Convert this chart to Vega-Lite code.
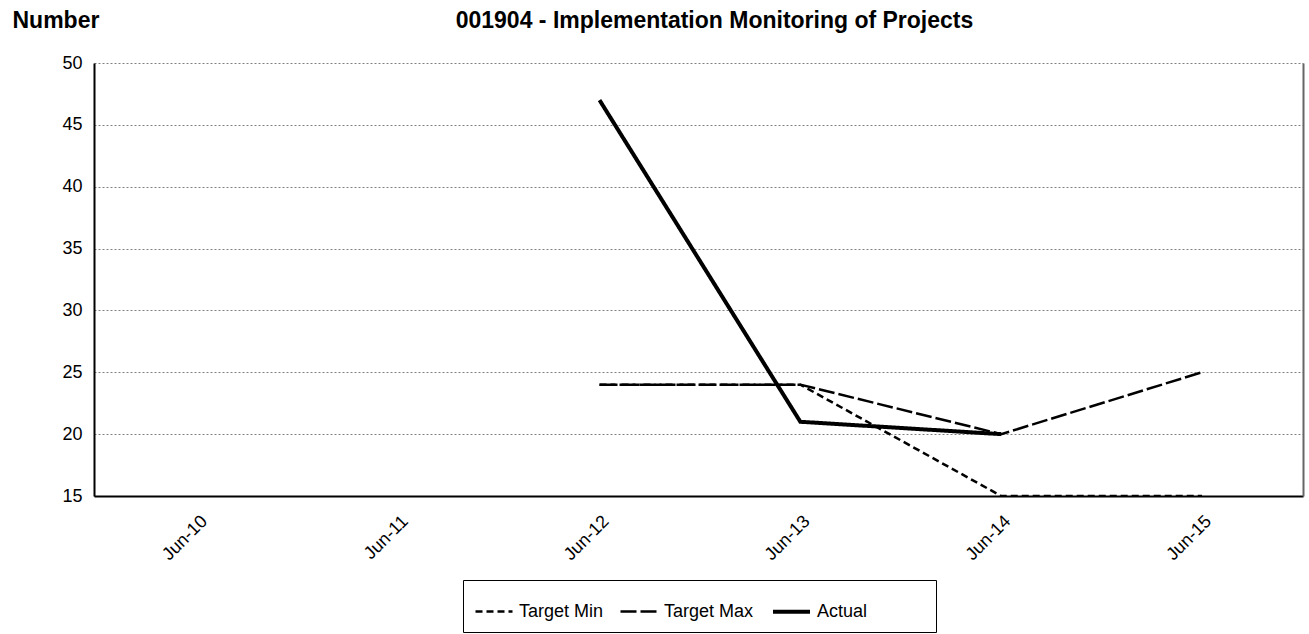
{
  "$schema": "https://vega.github.io/schema/vega-lite/v6.json",
  "autosize": "none",
  "width": 1209,
  "height": 433,
  "padding": {"left": 94, "top": 63, "right": 6, "bottom": 138},
  "background": "white",
  "data": {
    "values": [
      {"month": "Jun-12", "series": "Target Min", "value": 24},
      {"month": "Jun-13", "series": "Target Min", "value": 24},
      {"month": "Jun-14", "series": "Target Min", "value": 15},
      {"month": "Jun-15", "series": "Target Min", "value": 15},
      {"month": "Jun-12", "series": "Target Max", "value": 24},
      {"month": "Jun-13", "series": "Target Max", "value": 24},
      {"month": "Jun-14", "series": "Target Max", "value": 20},
      {"month": "Jun-15", "series": "Target Max", "value": 25},
      {"month": "Jun-12", "series": "Actual", "value": 47},
      {"month": "Jun-13", "series": "Actual", "value": 21},
      {"month": "Jun-14", "series": "Actual", "value": 20}
    ]
  },
  "layer": [
    {
      "mark": {"type": "line", "clip": true},
      "encoding": {
        "x": {
          "field": "month",
          "type": "nominal",
          "scale": {"type": "point", "domain": ["Jun-10", "Jun-11", "Jun-12", "Jun-13", "Jun-14", "Jun-15"], "padding": 0.51, "align": 0.507},
          "axis": {
            "title": null,
            "labelAngle": -45,
            "labelFontSize": 18,
            "labelPadding": 16,
            "ticks": false,
            "domainColor": "black",
            "domainWidth": 2,
            "grid": false
          }
        },
        "y": {
          "field": "value",
          "type": "quantitative",
          "scale": {"domain": [15, 50], "nice": false, "zero": false},
          "axis": {
            "values": [15, 20, 25, 30, 35, 40, 45, 50],
            "title": "Number",
            "titleAngle": 0,
            "titleAlign": "left",
            "titleBaseline": "alphabetic",
            "titleX": -82,
            "titleY": -36,
            "titleFontSize": 23,
            "titleFontWeight": "bold",
            "titleColor": "black",
            "labelFontSize": 18,
            "labelPadding": 12,
            "ticks": false,
            "domainColor": "black",
            "domainWidth": 2,
            "grid": true,
            "gridColor": "#808080",
            "gridDash": [2, 2],
            "gridWidth": 1
          }
        },
        "color": {
          "field": "series",
          "type": "nominal",
          "scale": {"domain": ["Target Min", "Target Max", "Actual"], "range": ["black", "black", "black"]},
          "legend": {"title": " "}
        },
        "strokeDash": {
          "field": "series",
          "type": "nominal",
          "scale": {"domain": ["Target Min", "Target Max", "Actual"], "range": [[7, 4], [16, 4], [1, 0]]},
          "legend": {"title": " "}
        },
        "strokeWidth": {
          "field": "series",
          "type": "nominal",
          "scale": {"type": "ordinal", "domain": ["Target Min", "Target Max", "Actual"], "range": [2.5, 2.5, 4]},
          "legend": {"title": " "}
        }
      }
    },
    {
      "mark": {"type": "line", "opacity": 0},
      "encoding": {
        "x": {
          "field": "month",
          "type": "nominal",
          "axis": {
            "orient": "top",
            "labels": false,
            "ticks": false,
            "grid": false,
            "domain": false,
            "title": "001904 - Implementation Monitoring of Projects",
            "titleX": 620,
            "titleY": -36,
            "titleAlign": "center",
            "titleBaseline": "alphabetic",
            "titleFontSize": 23,
            "titleFontWeight": "bold",
            "titleColor": "black"
          }
        },
        "y": {
          "field": "value",
          "type": "quantitative",
          "axis": {"orient": "right", "labels": false, "ticks": false, "grid": false, "title": null, "domainColor": "#666666", "domainWidth": 2}
        }
      }
    }
  ],
  "resolve": {"axis": {"y": "independent", "x": "independent"}},
  "config": {
    "font": "Liberation Sans",
    "view": {"stroke": null},
    "axis": {"labelColor": "black", "labelFont": "Liberation Sans", "titleFont": "Liberation Sans"},
    "legend": {
      "orient": "none",
      "legendX": 369,
      "legendY": 517,
      "direction": "horizontal",
      "strokeColor": "black",
      "fillColor": "white",
      "padding": 11,
      "symbolType": "stroke",
      "symbolSize": 1369,
      "labelFontSize": 18,
      "labelColor": "black",
      "labelOffset": 5,
      "columnPadding": 11,
      "titleOrient": "right",
      "titlePadding": 58,
      "titleFontSize": 18
    }
  }
}
